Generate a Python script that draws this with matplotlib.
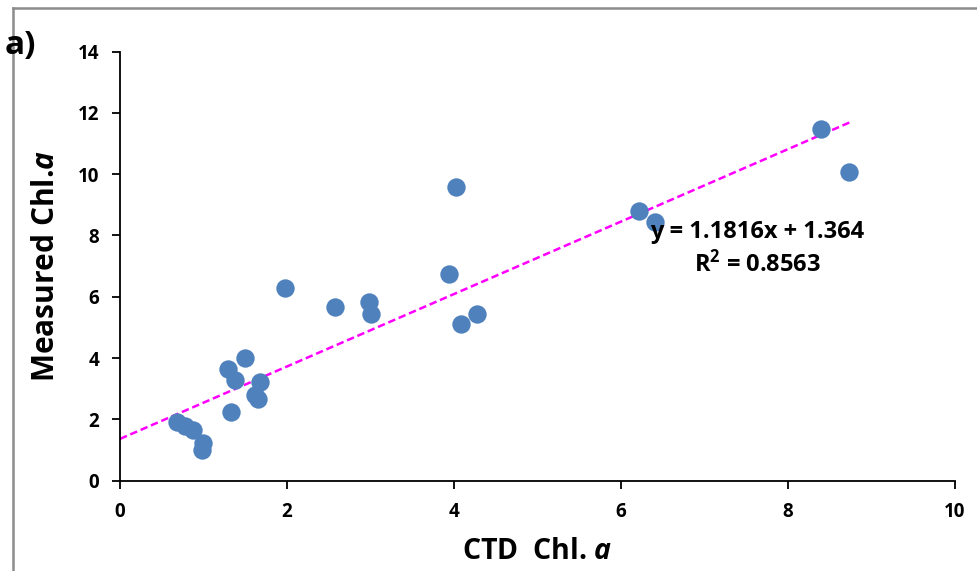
import matplotlib
matplotlib.use("Agg")
import matplotlib.pyplot as plt
from matplotlib.lines import Line2D

plt.rcParams["font.family"] = ["Open Sans", "DejaVu Sans"]
plt.rcParams["font.weight"] = "bold"
plt.rcParams["mathtext.fontset"] = "custom"
plt.rcParams["mathtext.it"] = "Open Sans:italic:bold"
plt.rcParams["mathtext.rm"] = "Open Sans:bold"

# CTD vs measured chlorophyll a
ctd_chl = [0.68, 0.78, 0.88, 1.00, 0.98, 1.29, 1.38, 1.50, 1.33, 1.68, 1.62, 1.65,
           4.02, 3.94, 1.98, 2.57, 2.98, 3.01, 4.08, 4.27,
           8.39, 8.73, 6.22, 6.41]
measured_chl = [1.90, 1.77, 1.66, 1.23, 1.00, 3.63, 3.30, 4.00, 2.23, 3.23, 2.80, 2.65,
                9.58, 6.75, 6.29, 5.68, 5.82, 5.45, 5.12, 5.45,
                11.48, 10.07, 8.80, 8.45]
slope, intercept = 1.1816, 1.364
fit_x = [0, 8.75]

fig = plt.figure(figsize=(9.77, 5.71), dpi=100)
ax = fig.add_axes([0.1228, 0.1581, 0.8547, 0.7516])

ax.scatter(ctd_chl, measured_chl, s=175, color="#4F81BD", zorder=3, linewidths=0)
ax.plot(fit_x, [slope * v + intercept for v in fit_x], color="#FF00FF",
        linestyle=(0, (3, 1.5)), linewidth=1.8, zorder=2)

ax.set_xlim(0, 10)
ax.set_ylim(0, 14)
ax.set_xticks(range(0, 11, 2))
ax.set_yticks(range(0, 15, 2))
ax.tick_params(direction="out", length=6, width=1.3, labelsize=13.5, pad=9)
for lab in ax.get_xticklabels() + ax.get_yticklabels():
    lab.set_fontweight("bold")
ax.spines["top"].set_visible(False)
ax.spines["right"].set_visible(False)
for s in ["left", "bottom"]:
    ax.spines[s].set_linewidth(1.3)

ax.set_xlabel(r"CTD  Chl. $\mathit{a}$", fontsize=20.5, fontweight="bold", labelpad=11)
ax.set_ylabel(r"Measured Chl.$\mathit{a}$", fontsize=21.5, fontweight="bold", labelpad=12)

ax.text(0.775, 0.594, "y = 1.1816x + 1.364", transform=fig.transFigure,
        fontsize=17, fontweight="bold", ha="center", va="center")
ax.text(0.775, 0.538, r"R$^{2}$ = 0.8563", transform=fig.transFigure,
        fontsize=17, fontweight="bold", ha="center", va="center")

fig.text(0.021, 0.92, "a)", fontsize=24, fontweight="bold", ha="center", va="center")

fig.add_artist(Line2D([13 / 977, 13 / 977], [0, 1 - 8 / 571], color="#8c8c8c",
                      linewidth=1.8, transform=fig.transFigure))
fig.add_artist(Line2D([13 / 977, 1], [1 - 8 / 571, 1 - 8 / 571], color="#8c8c8c",
                      linewidth=1.8, transform=fig.transFigure))

fig.savefig("out.png", dpi=100)
